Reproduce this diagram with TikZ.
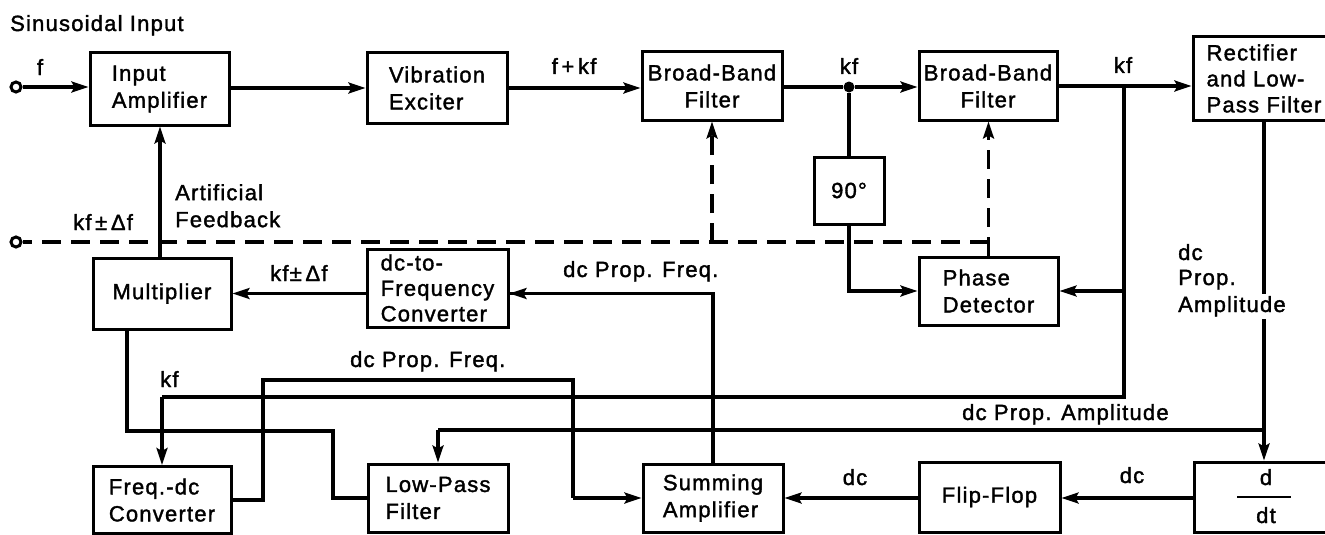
\documentclass[tikz,border=0pt]{standalone}
\usepackage{fontspec}
\setmainfont[LetterSpace=5.5, FakeBold=1.6]{Liberation Sans}
\usetikzlibrary{arrows.meta}
\begin{document}
\begin{tikzpicture}[x=1pt,y=-1pt,
  every node/.style={font=\fontsize{22}{27}\selectfont},
  blk/.style args={#1/#2}{draw, line width=3pt, minimum width=#1pt, minimum height=#2pt, align=left, inner sep=0pt},
  ln/.style={line width=3.2pt},
  arr/.style={line width=3.2pt, -{Stealth[length=17pt,width=11pt,inset=3pt]}},
  dsh/.style={line width=3.2pt, dash pattern=on 19pt off 10pt},
  dsharr/.style={dsh, -{Stealth[length=17pt,width=11pt,inset=3pt]}},
  term/.style={circle, draw, fill=white, line width=3pt, minimum size=10pt, inner sep=0pt},
  jdot/.style={circle, fill=black, minimum size=11pt, inner sep=0pt},
  lbl/.style={inner sep=0pt}
]
\useasboundingbox (0,0) rectangle (1325,535);

% blocks
\node[blk={139/72}] (ia) at (159.5,89) {Input\\Amplifier};
\node[blk={140/70}] (ve) at (437,88) {Vibration\\Exciter};
\node[blk={140/68}, align=center] (bb1) at (712,86) {Broad-Band\\Filter};
\node[blk={70/67}] (nin) at (849,190.5) {90°};
\node[blk={138/68}, align=center] (bb2) at (988,86) {Broad-Band\\Filter};
\node[blk={142/83}, font=\fontsize{22}{26}\selectfont] (rec) at (1264,78.5) {Rectifier\\and Low-\\Pass Filter};
\node[blk={138/71}] (mul) at (162,293.5) {Multiplier};
\node[blk={141/78}, font=\fontsize{22}{25.5}\selectfont] (dcf) at (437.5,288) {dc-to-\\Frequency\\Converter};
\node[blk={139/68}] (pd) at (988.5,291) {Phase\\Detector};
\node[blk={138/67}] (fdc) at (162,500) {Freq.-dc\\Converter};
\node[blk={140/68}] (lpf) at (438,498) {Low-Pass\\Filter};
\node[blk={140/68}] (sum) at (713,498) {Summing\\Amplifier};
\node[blk={141/70}] (ff) at (989.5,497) {Flip-Flop};
\node[blk={141/70}] (ddt) at (1264.5,497) {};
\node[lbl, anchor=base] (dd) at (1266,485) {d};
\node[lbl, anchor=base] (dt) at (1266,523) {dt};
\draw[line width=1.6pt] (1237,497) -- (1291,497);

% terminals and junctions
\node[term] (in1) at (16,87) {};
\node[term] (in2) at (16,242) {};
\node[jdot] (j1) at (849,87) {};
\coordinate (j2) at (1124,86);
\coordinate (j3) at (1264,430);

% top signal path
\draw[arr] (in1) -- (in1 -| ia.west);
\draw[arr] (ia.east |- ve.west) -- (ve.west);
\draw[arr] (ve.east) -- (ve.east -| bb1.west);
\draw[ln] (bb1.east |- j1) -- (j1);
\draw[arr] (j1) -- (j1 -| bb2.west);
\draw[ln] (j1) -- (nin.north);
\draw[arr] (nin.south) |- (pd.west);
\draw[arr] (bb2.east) -- (bb2.east -| rec.west);
\draw[ln] (j2) -- (j2 |- 0,397) -- (fdc.north |- 0,397);
\draw[arr] (fdc.north |- 0,397) -- (fdc.north);
\draw[arr] (j2 |- pd.east) -- (pd.east);

% amplitude path
\draw[arr] (rec.south) -- (rec.south |- ddt.north);
\draw[ln] (j3) -- (lpf.north |- j3);
\draw[arr] (lpf.north |- j3) -- (lpf.north);
\draw[arr] (ddt.west |- 0,498) -- (ff.east |- 0,498);
\draw[arr] (ff.west |- 0,498) -- (sum.east |- 0,498);

% multiplier / converters
\draw[ln] (mul.south -| 127,0) -- (127,431) -- (333,431) |- (lpf.west);
\draw[ln] (fdc.east) -- (263,500) -- (263,380) -- (573,380) -- (573,498);
\draw[arr] (573,498) -- (sum.west);
\draw[ln] (sum.north) -- (sum.north |- mul.east) -- (dcf.east |- mul.east);
\draw[arr] (713,293.5) -- (dcf.east |- mul.east);
\draw[arr] (dcf.west |- mul.east) -- (mul.east);
\draw[arr] (mul.north -| 160,0) -- (ia.south -| 160,0);

% dashed control lines
\draw[dsharr] (pd.north) -- (pd.north |- bb2.south);
\draw[dsh] (pd.north |- in2) -- (in2);
\draw[dsharr] (bb1.south |- in2) -- (bb1.south);

% labels
\node[lbl, anchor=base west] (tIn) at (10,31) {Sinusoidal Input};
\node[lbl, anchor=base] (tf) at (40,75) {f};
\node[lbl, anchor=base] (tfkf) at (574,74) {f\,+\,kf};
\node[lbl, anchor=base] (tkf1) at (849,74) {kf};
\node[lbl, anchor=base] (tkf2) at (1123,73) {kf};
\node[lbl, anchor=north west, align=left] (tart) at (175,184) {Artificial\\Feedback};
\node[lbl, anchor=base west] (tkfd1) at (73,230) {kf\,±\,Δf};
\node[lbl, anchor=base west] (tkfd2) at (270,281) {kf±\,Δf};
\node[lbl, anchor=base west] (tdpf1) at (563,277) {dc Prop. Freq.};
\node[lbl, anchor=base west] (tdpf2) at (350,367) {dc Prop. Freq.};
\node[lbl, anchor=base west] (tkf3) at (160,387) {kf};
\node[lbl, anchor=base west] (tdpa) at (962,420) {dc Prop. Amplitude};
\node[lbl, anchor=base] (tdc1) at (855,485) {dc};
\node[lbl, anchor=base] (tdc2) at (1132,483) {dc};
\node[lbl, anchor=base west] (tdc3) at (1178,260) {dc};
\node[lbl, anchor=base west] (tprop) at (1178,285) {Prop.};
\node[anchor=base west, fill=white, inner xsep=0pt, inner ysep=2pt] (tampl) at (1178,312) {Amplitude};
\end{tikzpicture}
\end{document}
